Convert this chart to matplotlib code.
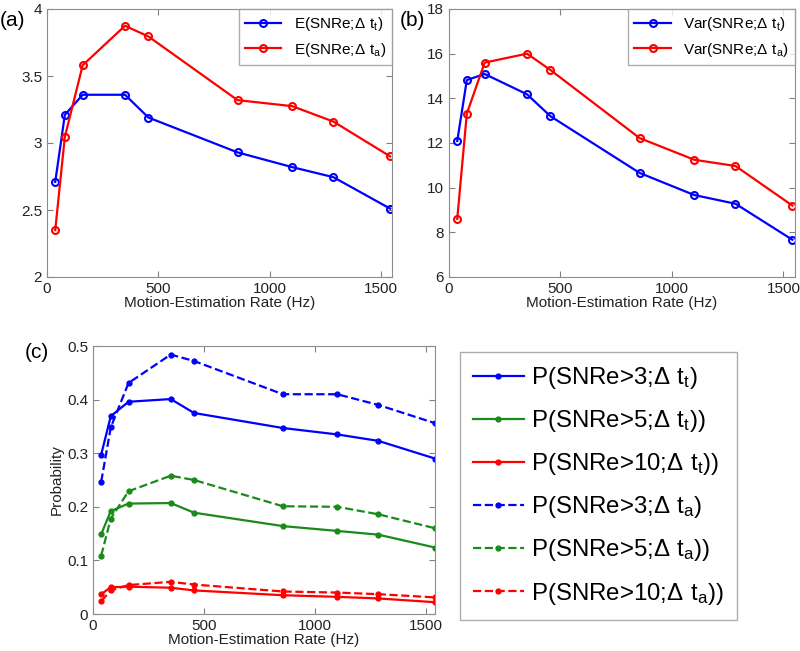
import matplotlib
matplotlib.use("Agg")
import matplotlib.pyplot as plt

plt.rcParams["font.family"] = ["Liberation Sans", "DejaVu Sans"]
plt.rcParams["mathtext.default"] = "regular"

rate_hz = [37, 80, 160, 350, 455, 855, 1100, 1285, 1540]
x_ticks = [0, 500, 1000, 1500]

mean_tt = [2.71, 3.21, 3.36, 3.36, 3.19, 2.93, 2.82, 2.745, 2.51]
mean_ta = [2.35, 3.045, 3.58, 3.875, 3.795, 3.32, 3.275, 3.16, 2.90]

var_tt = [12.09, 14.82, 15.09, 14.18, 13.2, 10.66, 9.67, 9.28, 7.67]
var_ta = [8.6, 13.32, 15.6, 16.0, 15.27, 12.22, 11.25, 10.97, 9.2]

p3_tt = [0.2975, 0.369, 0.396, 0.401, 0.375, 0.347, 0.335, 0.323, 0.290]
p5_tt = [0.149, 0.192, 0.206, 0.207, 0.189, 0.164, 0.155, 0.148, 0.124]
p10_tt = [0.037, 0.050, 0.051, 0.049, 0.044, 0.035, 0.032, 0.029, 0.022]
p3_ta = [0.247, 0.348, 0.431, 0.484, 0.472, 0.410, 0.410, 0.390, 0.356]
p5_ta = [0.109, 0.178, 0.229, 0.258, 0.250, 0.201, 0.200, 0.186, 0.160]
p10_ta = [0.024, 0.044, 0.054, 0.060, 0.055, 0.042, 0.040, 0.037, 0.031]

BLUE = "#0000ff"
GREEN = "#1a8a1a"
RED = "#ff0000"
W, H = 800, 651


def box(x0, y0, x1, y1):
    # pixel box (top-left origin) -> figure fraction rect
    return [x0 / W, 1 - y1 / H, (x1 - x0) / W, (y1 - y0) / H]


def style_axes(ax, xmax):
    ax.set_xlim(0, xmax)
    ax.set_xticks(x_ticks)
    ax.tick_params(direction="in", top=True, right=True, labelsize=11,
                   colors="0.5", labelcolor="#222222", length=4)
    for s in ax.spines.values():
        s.set_color("0.55")
    ax.set_xlabel("Motion-Estimation Rate (Hz)", fontsize=11, color="#222222",
                  labelpad=0)


fig = plt.figure(figsize=(8, 6.51), dpi=100)

# (a) mean
ax_a = fig.add_axes(box(47, 9, 392, 277))
ax_a.plot(rate_hz, mean_tt, "-o", color=BLUE, lw=1.6, ms=5, mfc="none", mew=1.5,
          label=r"E(SNRe;$\Delta\ t_t$)")
ax_a.plot(rate_hz, mean_ta, "-o", color=RED, lw=1.6, ms=5, mfc="none", mew=1.5,
          label=r"E(SNRe;$\Delta\ t_a$)")
ax_a.set_ylim(2, 4)
ax_a.set_yticks([2, 2.5, 3, 3.5, 4])
ax_a.set_yticklabels(["2", "2.5", "3", "3.5", "4"])
style_axes(ax_a, 1548)
leg = ax_a.legend(loc="upper right", fontsize=11, fancybox=False,
                  borderaxespad=0, handlelength=2.4, labelspacing=0.5)
leg.get_frame().set_edgecolor("0.6")
fig.text(0.0, 1 - 20 / H, "(a)", fontsize=15, va="center")

# (b) variance
ax_b = fig.add_axes(box(449, 9, 795, 277))
ax_b.plot(rate_hz, var_tt, "-o", color=BLUE, lw=1.6, ms=5, mfc="none", mew=1.5,
          label=r"Var(SNRe;$\Delta\ t_t$)")
ax_b.plot(rate_hz, var_ta, "-o", color=RED, lw=1.6, ms=5, mfc="none", mew=1.5,
          label=r"Var(SNRe;$\Delta\ t_a$)")
ax_b.set_ylim(6, 18)
ax_b.set_yticks([6, 8, 10, 12, 14, 16, 18])
style_axes(ax_b, 1552)
leg = ax_b.legend(loc="upper right", fontsize=11, fancybox=False,
                  borderaxespad=0, handlelength=2.4, labelspacing=0.5)
leg.get_frame().set_edgecolor("0.6")
fig.text(400 / W, 1 - 20 / H, "(b)", fontsize=15, va="center")

# (c) probabilities
ax_c = fig.add_axes(box(93, 346, 435, 614))
series = [
    (p3_tt, BLUE, "-", r"P(SNRe>3;$\Delta\ t_t$)"),
    (p5_tt, GREEN, "-", r"P(SNRe>5;$\Delta\ t_t$))"),
    (p10_tt, RED, "-", r"P(SNRe>10;$\Delta\ t_t$))"),
    (p3_ta, BLUE, "--", r"P(SNRe>3;$\Delta\ t_a$)"),
    (p5_ta, GREEN, "--", r"P(SNRe>5;$\Delta\ t_a$))"),
    (p10_ta, RED, "--", r"P(SNRe>10;$\Delta\ t_a$))"),
]
handles = []
for vals, col, ls, lab in series:
    (h,) = ax_c.plot(rate_hz, vals, ls, marker=".", color=col, lw=1.6, ms=7,
                     label=lab)
    handles.append(h)
ax_c.set_ylim(0, 0.5)
ax_c.set_yticks([0, 0.1, 0.2, 0.3, 0.4, 0.5])
ax_c.set_yticklabels(["0", "0.1", "0.2", "0.3", "0.4", "0.5"])
style_axes(ax_c, 1540)
ax_c.set_ylabel("Probability", fontsize=11, color="#222222", labelpad=2)
fig.text(25 / W, 1 - 353 / H, "(c)", fontsize=15, va="center")

leg = fig.legend(handles=handles, loc="upper left",
                 bbox_to_anchor=(460 / W, 1 - 352 / H), fontsize=17.3,
                 fancybox=False, handlelength=2.1, labelspacing=0.71,
                 borderpad=0.55, handletextpad=0.3, borderaxespad=0)
leg.get_frame().set_edgecolor("0.6")

fig.savefig("out.png", dpi=100)
